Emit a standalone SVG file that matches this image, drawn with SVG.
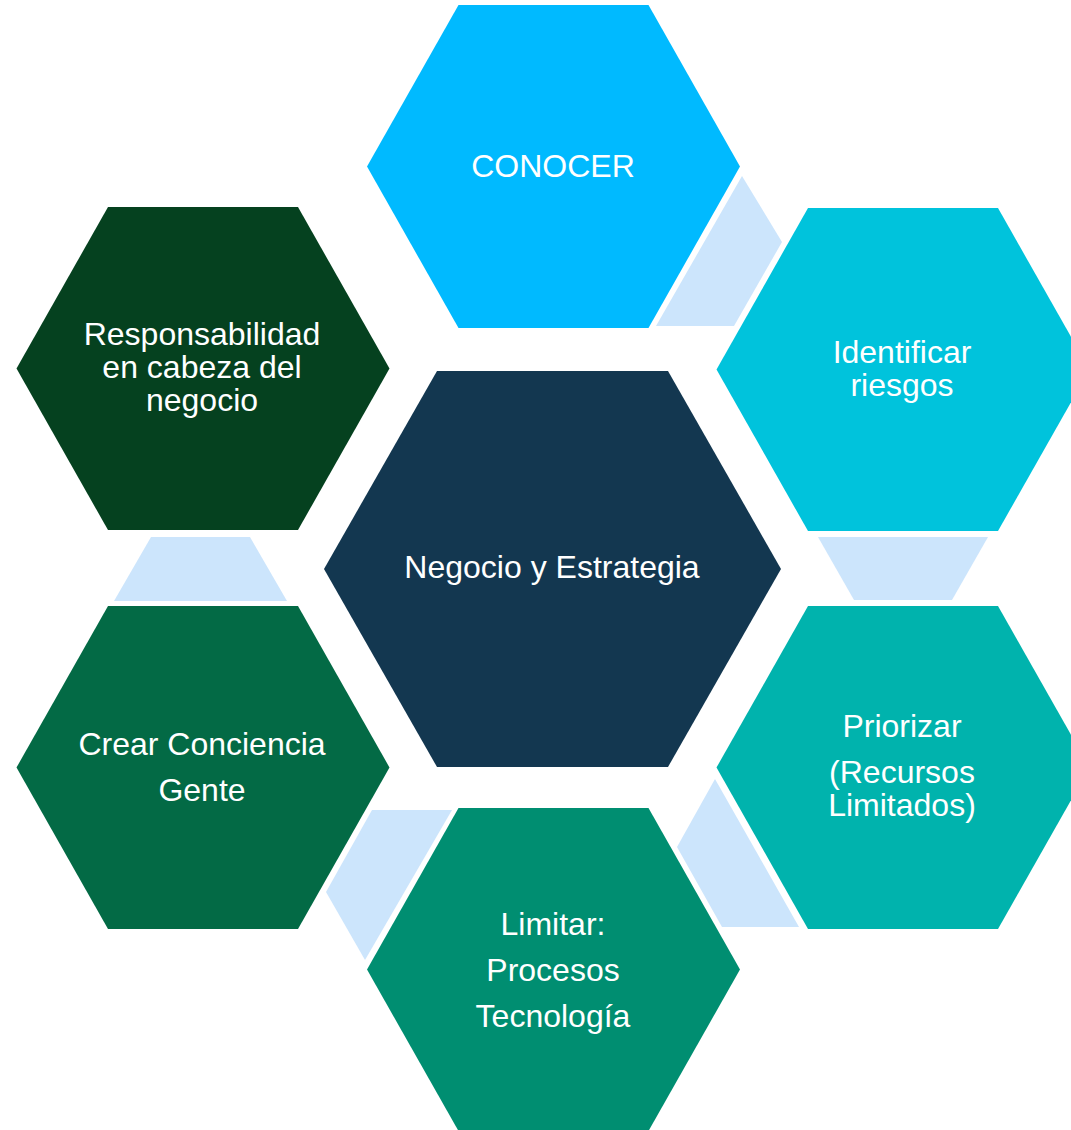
<svg xmlns="http://www.w3.org/2000/svg" width="1071" height="1130" viewBox="0 0 1071 1130">
<defs>
<style>
.lbl{font-family:"Liberation Sans",Arial,sans-serif;font-size:32px;fill:#ffffff;text-anchor:middle}
.conn{fill:#CCE5FC}
</style>
<polygon id="hex" points="-186.5,0 -95,-161.5 95,-161.5 186.5,0 95,161.5 -95,161.5"/>
</defs>
<rect width="1071" height="1130" fill="#ffffff"/>
<g id="connectors">
<polygon class="conn" points="742,176 782,242 734,326 656,326"/>
<polygon class="conn" points="818,537 988,537 952,600 854,600"/>
<polygon class="conn" points="715,779 677,847 722,927 799,927"/>
<polygon class="conn" points="372,810 452,810 365,960 326,892"/>
<polygon class="conn" points="151,537 250,537 287,601 114,601"/>
</g>
<g id="node-conocer">
<use href="#hex" x="553.5" y="166.5" fill="#00BAFF"/>
<text class="lbl" x="553" y="177">CONOCER</text>
</g>
<g id="node-identificar">
<use href="#hex" x="903" y="369.5" fill="#00C3DC"/>
<text class="lbl" x="902" y="363">Identificar</text>
<text class="lbl" x="902" y="396">riesgos</text>
</g>
<g id="node-priorizar">
<use href="#hex" x="903" y="767.5" fill="#00B3AD"/>
<text class="lbl" x="902" y="737">Priorizar</text>
<text class="lbl" x="902" y="783">(Recursos</text>
<text class="lbl" x="902" y="816">Limitados)</text>
</g>
<g id="node-limitar">
<use href="#hex" x="553.5" y="969.5" fill="#008E71"/>
<text class="lbl" x="553" y="935">Limitar:</text>
<text class="lbl" x="553" y="981">Procesos</text>
<text class="lbl" x="553" y="1027">Tecnología</text>
</g>
<g id="node-crear">
<use href="#hex" x="203" y="767.5" fill="#036A45"/>
<text class="lbl" x="202" y="755">Crear Conciencia</text>
<text class="lbl" x="202" y="801">Gente</text>
</g>
<g id="node-responsabilidad">
<use href="#hex" x="203" y="368.5" fill="#05411F"/>
<text class="lbl" x="202" y="345">Responsabilidad</text>
<text class="lbl" x="202" y="378">en cabeza del</text>
<text class="lbl" x="202" y="411">negocio</text>
</g>
<g id="node-negocio">
<polygon points="324,569 437,371 668,371 781,569 668,767 437,767" fill="#133750"/>
<text class="lbl" x="552" y="578">Negocio y Estrategia</text>
</g>
</svg>
